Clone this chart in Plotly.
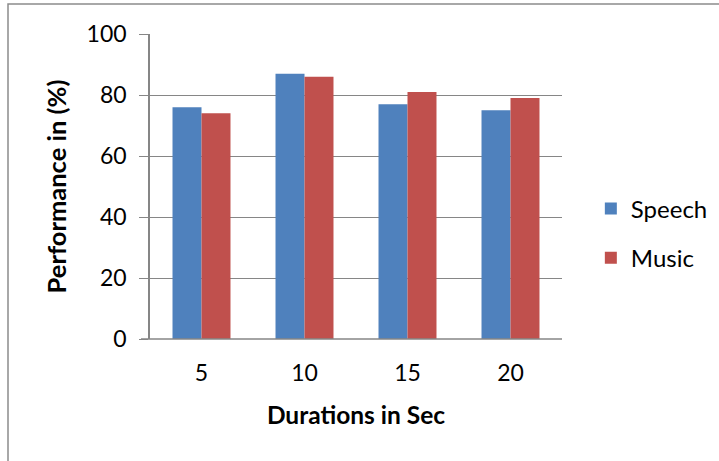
import plotly.graph_objects as go

categories = ["5", "10", "15", "20"]
speech = [76, 87, 77, 75]
music = [74, 86, 81, 79]
y_ticks = [0, 20, 40, 60, 80, 100]

FONT = "Lato"
GRID = "#868686"

fig = go.Figure()
fig.add_trace(go.Bar(x=categories, y=speech, name="Speech", marker_color="#4F81BD",
                     marker_line_width=0, legendgroup="a"))
fig.add_trace(go.Bar(x=categories, y=music, name="Music", marker_color="#C0504D",
                     marker_line_width=0, legendgroup="b"))

fig.update_layout(
    width=719, height=461,
    margin=dict(l=150, r=157, t=34, b=122, autoexpand=False),
    paper_bgcolor="white", plot_bgcolor="white",
    font=dict(family=FONT, size=23, color="black"),
    barmode="group", bargap=0.437, bargroupgap=0,
    legend=dict(x=1.07, xanchor="left", y=0.346, yanchor="middle",
                font=dict(size=24), tracegroupgap=15, bgcolor="rgba(0,0,0,0)"),
    xaxis=dict(type="category", showgrid=False, showline=False, ticks="",
               ticklabelstandoff=18,
               title=dict(text="<b>Durations in Sec</b>", standoff=21,
                          font=dict(size=24.5))),
    yaxis=dict(range=[0, 100], tickvals=y_ticks, showgrid=True, gridcolor=GRID,
               gridwidth=1.3, zeroline=False, showline=True, linecolor=GRID,
               linewidth=1.5, ticks="outside", ticklen=9, tickcolor=GRID,
               tickwidth=1.3, ticklabelstandoff=8,
               title=dict(text="<b>Performance in (%)</b>", standoff=13,
                          font=dict(size=25.5))),
    shapes=[
        dict(type="line", xref="paper", yref="paper", x0=-0.0219, x1=1.0, y0=0, y1=0,
             line=dict(color=GRID, width=1.5), layer="above"),
        dict(type="rect", xref="paper", yref="paper",
             x0=(8 - 150) / 412, x1=(740 - 150) / 412,
             y0=(339 - 480) / 305, y1=(339 - 4) / 305,
             line=dict(color="#8c8c8c", width=1.5), fillcolor="rgba(0,0,0,0)",
             layer="below"),
    ],
)

fig.write_html("out.html", config={"displayModeBar": False},
               post_script="document.body.style.margin='0px';")
